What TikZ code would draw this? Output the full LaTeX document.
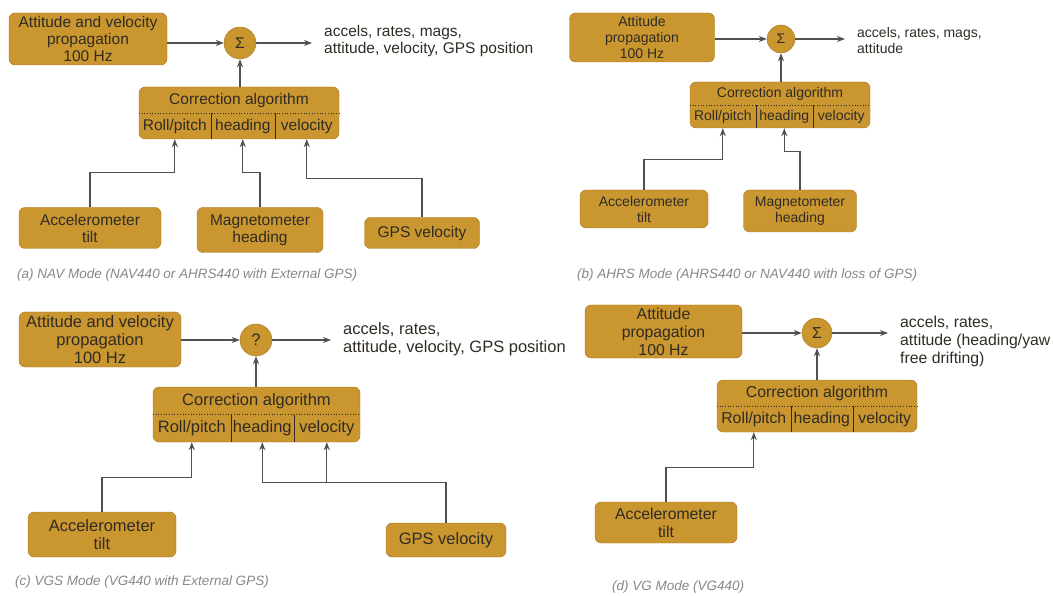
\documentclass[tikz,border=0pt]{standalone}
\usepackage{fontspec}
\setmainfont{Liberation Sans}
\usetikzlibrary{arrows.meta,positioning}
\definecolor{boxfill}{RGB}{201,150,48}
\definecolor{boxline}{RGB}{166,118,36}
\definecolor{txt}{RGB}{48,44,36}
\definecolor{wire}{RGB}{80,80,80}
\definecolor{captxt}{RGB}{135,135,135}
\tikzset{
  box/.style={rectangle, rounded corners=6pt, draw=boxline, fill=boxfill, text=txt, align=center, inner sep=2pt},
  sumnode/.style={circle, draw=boxline, fill=boxfill, text=txt, inner sep=0pt},
  cell/.style={rectangle, inner sep=0pt, outer sep=0pt, minimum height=26pt, text=txt},
  outtext/.style={anchor=west, align=left, inner xsep=12pt, inner ysep=0pt, text=txt},
  caption/.style={anchor=west, inner sep=0pt, text=captxt, font=\fontsize{13.5}{16}\selectfont\itshape},
  conn/.style={draw=wire, line width=1.2pt, -{Stealth[length=8pt,width=6pt]}},
  sepline/.style={draw=txt, line width=0.5pt},
  dotline/.style={draw=txt, line width=0.7pt, dotted}
}

\begin{document}
\begin{tikzpicture}[x=1pt, y=-1pt]
  \useasboundingbox (0,0) rectangle (1053,596);

  % (a) NAV mode
  \begin{scope}[font=\fontsize{15.5}{17}\selectfont]
    \node[box, minimum width=158pt, minimum height=52pt] (propA) at (88,39) {Attitude and velocity\\propagation\\100 Hz};
    \node[sumnode, minimum size=32pt] (sumA) at (240,43) {Σ};
    \node[outtext] (outA) at (312,40.5) {accels, rates, mags,\\attitude, velocity, GPS position};
    \node[box, minimum width=200pt, minimum height=52pt] (corrA) at (239,113) {};
    \node[cell, minimum width=200pt, anchor=south] (ttlA) at (corrA.center) {Correction algorithm};
    \node[cell, minimum width=72pt, anchor=north west] (rpA) at (corrA.west) {Roll/pitch};
    \node[cell, minimum width=64pt, right=0pt of rpA] (hdA) {heading};
    \node[cell, minimum width=64pt, right=0pt of hdA] (vlA) {velocity};
    \node[box, minimum width=142pt, minimum height=41pt] (accA) at (90,228) {Accelerometer\\tilt};
    \node[box, minimum width=126pt, minimum height=45pt] (magA) at (260,230) {Magnetometer\\heading};
    \node[box, minimum width=115pt, minimum height=31pt] (gpsA) at (422,233) {GPS velocity};
    \node[caption] (capA) at (17,275) {(a) NAV Mode (NAV440 or AHRS440 with External GPS)};
  \end{scope}
  \draw[dotline] (corrA.west) -- (corrA.east);
  \draw[sepline] (rpA.north east) -- (rpA.south east);
  \draw[sepline] (hdA.north east) -- (hdA.south east);
  \draw[conn] (propA.east |- sumA) -- (sumA);
  \draw[conn] (sumA) -- (outA.west |- sumA);
  \draw[conn] (sumA |- corrA.north) -- (sumA);
  \draw[conn] (accA.north) -- ++(0,-35) -| (rpA |- corrA.south);
  \draw[conn] (magA.north) -- ++(0,-35) -| (hdA |- corrA.south);
  \draw[conn] (gpsA.north) -- ++(0,-39) -| (vlA |- corrA.south);

  % (b) AHRS mode
  \begin{scope}[font=\fontsize{14}{16}\selectfont]
    \node[box, minimum width=145pt, minimum height=49pt] (propB) at (642,37.5) {Attitude\\propagation\\100 Hz};
    \node[sumnode, minimum size=28pt] (sumB) at (781,39) {Σ};
    \node[outtext] (outB) at (845,40) {accels, rates, mags,\\attitude};
    \node[box, minimum width=180pt, minimum height=46pt] (corrB) at (780,105) {};
    \node[cell, minimum width=180pt, minimum height=23pt, anchor=south] (ttlB) at (corrB.center) {Correction algorithm};
    \node[cell, minimum width=66pt, minimum height=23pt, anchor=north west] (rpB) at (corrB.west) {Roll/pitch};
    \node[cell, minimum width=57pt, minimum height=23pt, right=0pt of rpB] (hdB) {heading};
    \node[cell, minimum width=57pt, minimum height=23pt, right=0pt of hdB] (vlB) {velocity};
    \node[box, minimum width=128pt, minimum height=38pt] (accB) at (644,209) {Accelerometer\\tilt};
    \node[box, minimum width=113pt, minimum height=42pt] (magB) at (800,211) {Magnetometer\\heading};
    \node[caption] (capB) at (577,275) {(b) AHRS Mode (AHRS440 or NAV440 with loss of GPS)};
  \end{scope}
  \draw[dotline] (corrB.west) -- (corrB.east);
  \draw[sepline] (rpB.north east) -- (rpB.south east);
  \draw[sepline] (hdB.north east) -- (hdB.south east);
  \draw[conn] (propB.east |- sumB) -- (sumB);
  \draw[conn] (sumB) -- (outB.west |- sumB);
  \draw[conn] (sumB |- corrB.north) -- (sumB);
  \draw[conn] (accB.north) -- ++(0,-30) -| (rpB |- corrB.south);
  \draw[conn] (magB.north) -- ++(0,-38) -| (hdB |- corrB.south);

  % (c) VGS mode
  \begin{scope}[font=\fontsize{16.5}{18}\selectfont]
    \node[box, minimum width=162pt, minimum height=55pt] (propC) at (100,339.5) {Attitude and velocity\\propagation\\100 Hz};
    \node[sumnode, minimum size=32pt] (sumC) at (256,340) {?};
    \node[outtext] (outC) at (331,339) {accels, rates,\\attitude, velocity, GPS position};
    \node[box, minimum width=207pt, minimum height=55pt] (corrC) at (256.5,414.5) {};
    \node[cell, minimum width=207pt, minimum height=27.5pt, anchor=south] (ttlC) at (corrC.center) {Correction algorithm};
    \node[cell, minimum width=78pt, minimum height=27.5pt, anchor=north west] (rpC) at (corrC.west) {Roll/pitch};
    \node[cell, minimum width=63pt, minimum height=27.5pt, right=0pt of rpC] (hdC) {heading};
    \node[cell, minimum width=66pt, minimum height=27.5pt, right=0pt of hdC] (vlC) {velocity};
    \node[box, minimum width=148pt, minimum height=45pt] (accC) at (102,534.5) {Accelerometer\\tilt};
    \node[box, minimum width=120pt, minimum height=34pt] (gpsC) at (446,540) {GPS velocity};
    \node[caption] (capC) at (15,582) {(c) VGS Mode (VG440 with External GPS)};
  \end{scope}
  \draw[dotline] (corrC.west) -- (corrC.east);
  \draw[sepline] (rpC.north east) -- (rpC.south east);
  \draw[sepline] (hdC.north east) -- (hdC.south east);
  \draw[conn] (propC.east |- sumC) -- (sumC);
  \draw[conn] (sumC) -- (outC.west |- sumC);
  \draw[conn] (sumC |- corrC.north) -- (sumC);
  \draw[conn] (accC.north) -- ++(0,-34) -| (rpC |- corrC.south);
  \draw[conn] (gpsC.north) -- ++(0,-40) coordinate (bendC) -| (hdC |- corrC.south);
  \draw[conn] (bendC -| vlC) -- (vlC |- corrC.south);

  % (d) VG mode
  \begin{scope}[font=\fontsize{15.8}{18}\selectfont]
    \node[box, minimum width=157pt, minimum height=53pt] (propD) at (663.5,331.5) {Attitude\\propagation\\100 Hz};
    \node[sumnode, minimum size=30pt] (sumD) at (817,333) {Σ};
    \node[outtext] (outD) at (888,341) {accels, rates,\\attitude (heading/yaw\\free drifting)};
    \node[box, minimum width=200pt, minimum height=52pt] (corrD) at (817,406) {};
    \node[cell, minimum width=200pt, anchor=south] (ttlD) at (corrD.center) {Correction algorithm};
    \node[cell, minimum width=74pt, anchor=north west] (rpD) at (corrD.west) {Roll/pitch};
    \node[cell, minimum width=62pt, right=0pt of rpD] (hdD) {heading};
    \node[cell, minimum width=64pt, right=0pt of hdD] (vlD) {velocity};
    \node[box, minimum width=142pt, minimum height=41pt] (accD) at (666,522.5) {Accelerometer\\tilt};
    \node[caption] (capD) at (612,587) {(d) VG Mode (VG440)};
  \end{scope}
  \draw[dotline] (corrD.west) -- (corrD.east);
  \draw[sepline] (rpD.north east) -- (rpD.south east);
  \draw[sepline] (hdD.north east) -- (hdD.south east);
  \draw[conn] (propD.east |- sumD) -- (sumD);
  \draw[conn] (sumD) -- (outD.west |- sumD);
  \draw[conn] (sumD |- corrD.north) -- (sumD);
  \draw[conn] (accD.north) -- ++(0,-34) -| (rpD |- corrD.south);
\end{tikzpicture}
\end{document}
